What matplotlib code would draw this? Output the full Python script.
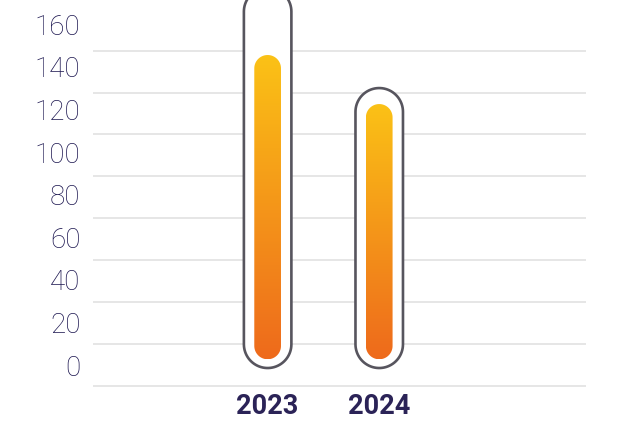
import matplotlib
matplotlib.use('Agg')
import matplotlib.pyplot as plt
import numpy as np
from matplotlib.patches import Polygon

# Data
years = ['2023', '2024']
values = [145.5, 122.5]      # filled level
capacity = [177, 130]       # outer tube top
yticks = [0, 20, 40, 60, 80, 100, 120, 140, 160]

top_col = np.array([251, 194, 22]) / 255.
bot_col = np.array([238, 106, 28]) / 255.

fig = plt.figure(figsize=(6.23, 4.23), dpi=100)
ax = fig.add_axes([93/623, 1 - 387/423, 493/623, 387/423])

xl = (-1.565, 2.853)
yl = (-10.2, 171.3)

# pixels per data unit, used to keep the caps round
px_x = 493 / (xl[1] - xl[0])
px_y = 387 / (yl[1] - yl[0])


def capsule(xc, y0, y1, w):
    # rounded tube outline in data coords
    rx = w / 2
    ry = rx * px_x / px_y
    t = np.linspace(0, np.pi, 40)
    top = np.column_stack([xc + rx*np.cos(t), y1 - ry + ry*np.sin(t)])
    bot = np.column_stack([xc - rx*np.cos(t), y0 + ry - ry*np.sin(t)])
    return np.vstack([top, bot])


# grid lines (spaced a bit tighter than the labels, sitting below them)
for t in yticks:
    g = -9.53 + t * 0.9815
    ax.axhline(g, color='#e4e4e4', lw=1.3, zorder=0)

x = np.arange(len(years))
outer_w = 47.5 / px_x
inner_w = 26.7 / px_x

for i in range(len(years)):
    # outer tube
    outer = Polygon(capsule(x[i], -1.3, capacity[i], outer_w), closed=True,
                    facecolor='white', edgecolor='#57555e', lw=1.9, zorder=2)
    ax.add_patch(outer)

    # inner gradient bar
    ib, it = 2.8, values[i]
    inner = Polygon(capsule(x[i], ib, it, inner_w), closed=True,
                    facecolor='none', edgecolor='none', zorder=3)
    ax.add_patch(inner)
    f = np.linspace(0, 1, 256)[:, None]
    grad = top_col[None, :] * (1 - f) + bot_col[None, :] * f
    grad = np.repeat(grad[:, None, :], 2, axis=1)
    im = ax.imshow(grad, extent=[x[i] - inner_w/2, x[i] + inner_w/2, ib, it],
                   aspect='auto', origin='upper', zorder=3, interpolation='bilinear')
    im.set_clip_path(inner)

ax.set_xlim(*xl)
ax.set_ylim(*yl)

ax.set_yticks(yticks)
ax.set_yticklabels([str(t) for t in yticks], fontsize=20, color='#1c1650',
                   family='Roboto', fontweight='light')
ax.set_xticks(x)
ax.set_xticklabels(years, fontsize=19.5, color='#2b2357', family='Roboto',
                   fontweight='bold')
ax.tick_params(axis='y', length=0, pad=9)
ax.tick_params(axis='x', length=0, pad=4)

for s in ax.spines.values():
    s.set_visible(False)

fig.savefig('out.png', dpi=100)
